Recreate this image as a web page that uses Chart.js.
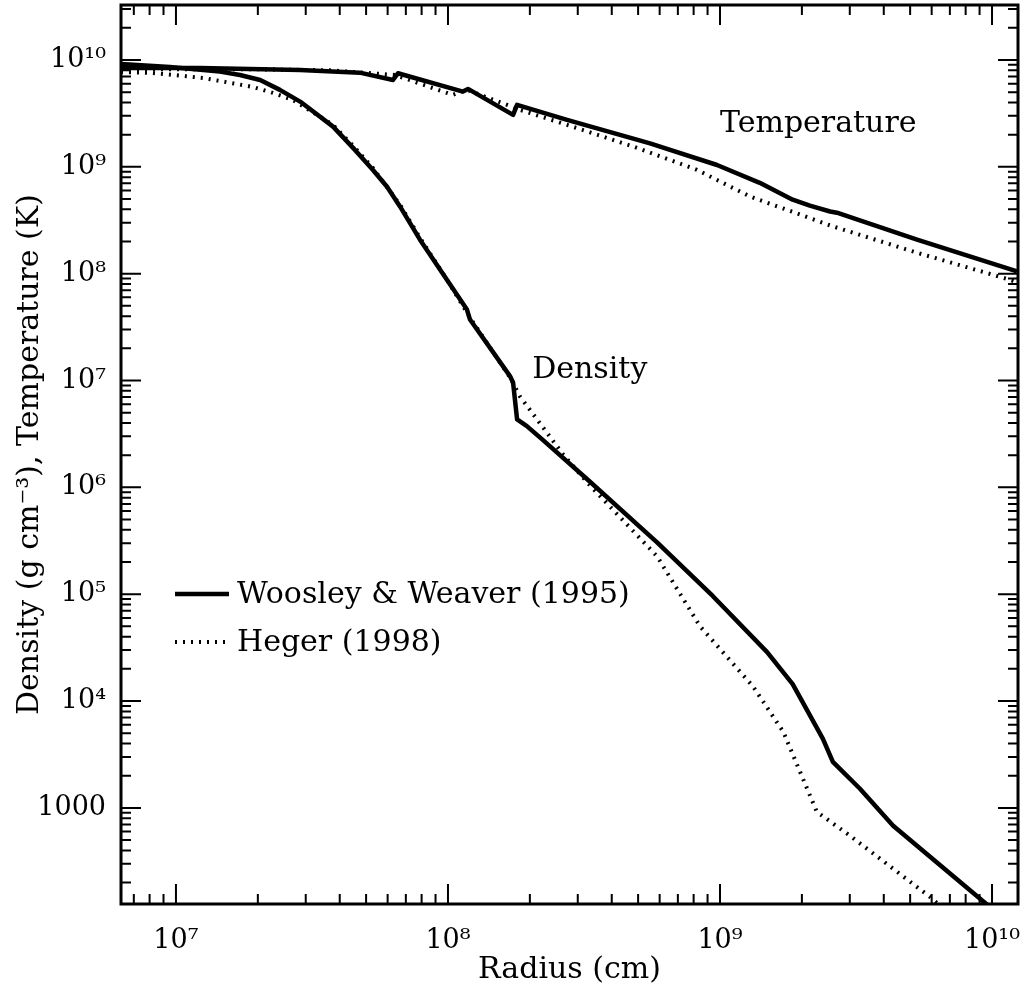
<!DOCTYPE html>
<html lang="en">
<head>
<meta charset="UTF-8">
<title>Density and Temperature Profiles</title>
<script src="https://cdn.jsdelivr.net/npm/chart.js"></script>
<style>
    body { margin: 0; padding: 0; background: #fff; }
    canvas { display: block; }
</style>
</head>
<body>
<canvas id="myChart" width="1027" height="996"></canvas>
<script>
// values: radius (cm) and temperature (K) / density (g cm^-3)
const wwTempR = [6.28e6, 1.225e7, 2.86e7, 4.74e7, 6.28e7, 6.55e7, 1.135e8, 1.185e8, 1.735e8, 1.795e8, 2.74e8, 5.53e8, 9.75e8, 1.40e9, 1.85e9, 2.14e9, 2.54e9, 2.69e9, 5.30e9, 1.236e10];
const wwTempT = [8.42e9, 8.42e9, 8.07e9, 7.61e9, 6.5e9, 7.51e9, 5.06e9, 5.36e9, 3.06e9, 3.80e9, 2.75e9, 1.66e9, 1.04e9, 7.08e8, 4.92e8, 4.33e8, 3.82e8, 3.72e8, 2.08e8, 1.05e8];

const heTempR = [6.28e6, 1.87e7, 3.68e7, 6.38e7, 6.66e7, 1.04e8, 1.174e8, 1.65e8, 1.84e8, 2.74e8, 4.79e8, 8.22e8, 1.29e9, 2.60e9, 5.30e9, 1.16e10, 1.246e10];
const heTempT = [8.2e9, 8.2e9, 8.0e9, 7.24e9, 6.98e9, 4.71e9, 5.25e9, 3.80e9, 3.41e9, 2.47e9, 1.55e9, 9.38e8, 5.27e8, 2.77e8, 1.57e8, 8.79e7, 8.24e7];

const wwDensR = [6.28e6, 9.5e6, 1.45e7, 1.72e7, 2.04e7, 2.41e7, 2.86e7, 3.78e7, 4.55e7, 5.29e7, 5.97e7, 6.66e7, 7.89e7, 9.91e7, 1.174e8, 1.205e8, 1.69e8, 1.735e8, 1.795e8, 1.95e8, 2.22e8, 3.25e8, 5.87e8, 9.42e8, 1.49e9, 1.85e9, 2.39e9, 2.60e9, 3.27e9, 4.33e9, 9.99e9];
const wwDensD = [9.18e9, 8.6e9, 7.78e9, 7.24e9, 6.5e9, 5.25e9, 4.08e9, 2.38e9, 1.44e9, 9.38e8, 6.5e8, 4.26e8, 2.08e8, 8.79e7, 4.61e7, 3.72e7, 1.10e7, 9.57e6, 4.32e6, 3.74e6, 2.81e6, 1.19e6, 3.06e5, 9.57e4, 2.87e4, 1.44e4, 4420, 2690, 1510, 679, 114];

const heDensR = [6.28e6, 8.23e6, 1.257e7, 1.92e7, 2.27e7, 2.69e7, 3.78e7, 4.55e7, 5.29e7, 6.66e7, 7.89e7, 9.91e7, 1.205e8, 1.69e8, 1.84e8, 2.65e8, 3.25e8, 5.87e8, 8.44e8, 1.32e9, 1.71e9, 2.27e9, 3.01e9, 5.91e9, 6.71e9];
const heDensD = [7.72e9, 7.56e9, 6.79e9, 5.59e9, 4.92e9, 4.23e9, 2.47e9, 1.51e9, 9.8e8, 4.42e8, 2.17e8, 8.79e7, 3.88e7, 1.07e7, 7.08e6, 2.03e6, 1.11e6, 2.26e5, 5.02e4, 1.38e4, 5130, 918, 547, 147, 111];

// tick labels (powers of ten that get a label)
const xTickPowers = [7, 8, 9, 10];
const yTickPowers = [3, 4, 5, 6, 7, 8, 9, 10];

const seriesNames = ['Woosley & Weaver (1995)', 'Heger (1998)'];
const curveNames = ['Temperature', 'Density'];

const FONT = "'DejaVu Serif', 'Liberation Serif', serif";
const SUP = { '0': '\u2070', '1': '\u00b9', '2': '\u00b2', '3': '\u00b3', '4': '\u2074', '5': '\u2075', '6': '\u2076', '7': '\u2077', '8': '\u2078', '9': '\u2079' };

function pow10Label(e) {
    if (e === 3) return '1000';
    return '10' + String(e).split('').map(c => SUP[c]).join('');
}

function mantissa(v) {
    const e = Math.floor(Math.log10(v) + 1e-9);
    const m = v / Math.pow(10, e);
    const r = Math.round(m);
    if (Math.abs(m - r) > 1e-6) return null;
    return { m: r, e: e };
}

function tickLabel(powers) {
    return function(value) {
        const t = mantissa(value);
        if (!t || t.m !== 1 || powers.indexOf(t.e) < 0) return '';
        return pow10Label(t.e);
    };
}

function pts(xs, ys) {
    return xs.map((x, i) => ({ x: x, y: ys[i] }));
}

const solidStyle = { borderColor: '#000', borderWidth: 4.5, borderDash: [] };
const dotStyle = { borderColor: '#000', borderWidth: 4, borderDash: [2, 6] };

// inward ticks on all four sides, frame, legend and curve names
const decorations = {
    id: 'decorations',
    afterDatasetsDraw(chart) {
        const { ctx, chartArea: a, scales } = chart;
        ctx.save();
        ctx.strokeStyle = '#000';
        ctx.lineWidth = 2;
        ctx.beginPath();
        scales.x.ticks.forEach(t => {
            const mm = mantissa(t.value);
            if (!mm) return;
            const p = scales.x.getPixelForValue(t.value);
            if (p <= a.left + 1 || p >= a.right - 1) return;
            const len = mm.m === 1 ? 20 : 10;
            ctx.moveTo(p, a.bottom); ctx.lineTo(p, a.bottom - len);
            ctx.moveTo(p, a.top); ctx.lineTo(p, a.top + len);
        });
        scales.y.ticks.forEach(t => {
            const mm = mantissa(t.value);
            if (!mm) return;
            const p = scales.y.getPixelForValue(t.value);
            if (p <= a.top + 1 || p >= a.bottom - 1) return;
            const len = mm.m === 1 ? 20 : 10;
            ctx.moveTo(a.left, p); ctx.lineTo(a.left + len, p);
            ctx.moveTo(a.right, p); ctx.lineTo(a.right - len, p);
        });
        ctx.stroke();

        ctx.lineWidth = 3;
        ctx.strokeRect(a.left, a.top, a.right - a.left, a.bottom - a.top);

        // legend
        ctx.font = '30px ' + FONT;
        ctx.fillStyle = '#000';
        ctx.textBaseline = 'middle';
        ctx.textAlign = 'left';
        const styles = [solidStyle, dotStyle];
        seriesNames.forEach((name, i) => {
            const y = a.top + 589 + i * 48;
            const x0 = a.left + 54;
            ctx.lineWidth = styles[i].borderWidth;
            ctx.setLineDash(styles[i].borderDash);
            ctx.beginPath();
            ctx.moveTo(x0, y);
            ctx.lineTo(x0 + 54, y);
            ctx.stroke();
            ctx.setLineDash([]);
            ctx.fillText(name, x0 + 62, y + 1);
        });

        // curve names
        ctx.fillText(curveNames[0], scales.x.getPixelForValue(1.0e9), scales.y.getPixelForValue(2.52e9));
        ctx.fillText(curveNames[1], scales.x.getPixelForValue(2.04e8), scales.y.getPixelForValue(1.24e7));
        ctx.restore();
    }
};

const ctx = document.getElementById('myChart').getContext('2d');
new Chart(ctx, {
    type: 'line',
    data: {
        datasets: [
            Object.assign({ label: seriesNames[1], data: pts(heTempR, heTempT) }, dotStyle),
            Object.assign({ label: seriesNames[1], data: pts(heDensR, heDensD) }, dotStyle),
            Object.assign({ label: seriesNames[0], data: pts(wwTempR, wwTempT) }, solidStyle),
            Object.assign({ label: seriesNames[0], data: pts(wwDensR, wwDensD) }, solidStyle)
        ]
    },
    options: {
        responsive: false,
        animation: false,
        devicePixelRatio: 1,
        layout: { padding: { left: 0, right: 9, top: 5, bottom: 0 } },
        elements: {
            point: { radius: 0 },
            line: { tension: 0, borderCapStyle: 'butt', borderJoinStyle: 'round', fill: false }
        },
        plugins: {
            legend: { display: false },
            tooltip: { enabled: false }
        },
        scales: {
            x: {
                type: 'logarithmic',
                min: 6.28e6,
                max: 1.246e10,
                grid: { display: false, drawTicks: false },
                border: { display: false },
                ticks: {
                    autoSkip: false,
                    maxRotation: 0,
                    padding: 21,
                    color: '#000',
                    font: { family: FONT, size: 27 },
                    callback: tickLabel(xTickPowers)
                },
                title: {
                    display: true,
                    text: 'Radius (cm)',
                    color: '#000',
                    font: { family: FONT, size: 30 },
                    padding: { top: 0, bottom: 8 }
                },
                afterFit: s => {
                    s.height = 92;
                    s.paddingLeft = 0;
                    s.paddingRight = 0;
                }
            },
            y: {
                type: 'logarithmic',
                min: 126,
                max: 3.27e10,
                grid: { display: false, drawTicks: false },
                border: { display: false },
                ticks: {
                    autoSkip: false,
                    padding: 15,
                    color: '#000',
                    font: { family: FONT, size: 27 },
                    callback: tickLabel(yTickPowers)
                },
                title: {
                    display: true,
                    text: 'Density (g cm\u207b\u00b3), Temperature (K)',
                    color: '#000',
                    font: { family: FONT, size: 30 },
                    padding: { top: 12, bottom: 0 }
                },
                afterFit: s => {
                    s.width = 121;
                    s.paddingTop = 0;
                    s.paddingBottom = 0;
                }
            }
        }
    },
    plugins: [decorations]
});
</script>
</body>
</html>
